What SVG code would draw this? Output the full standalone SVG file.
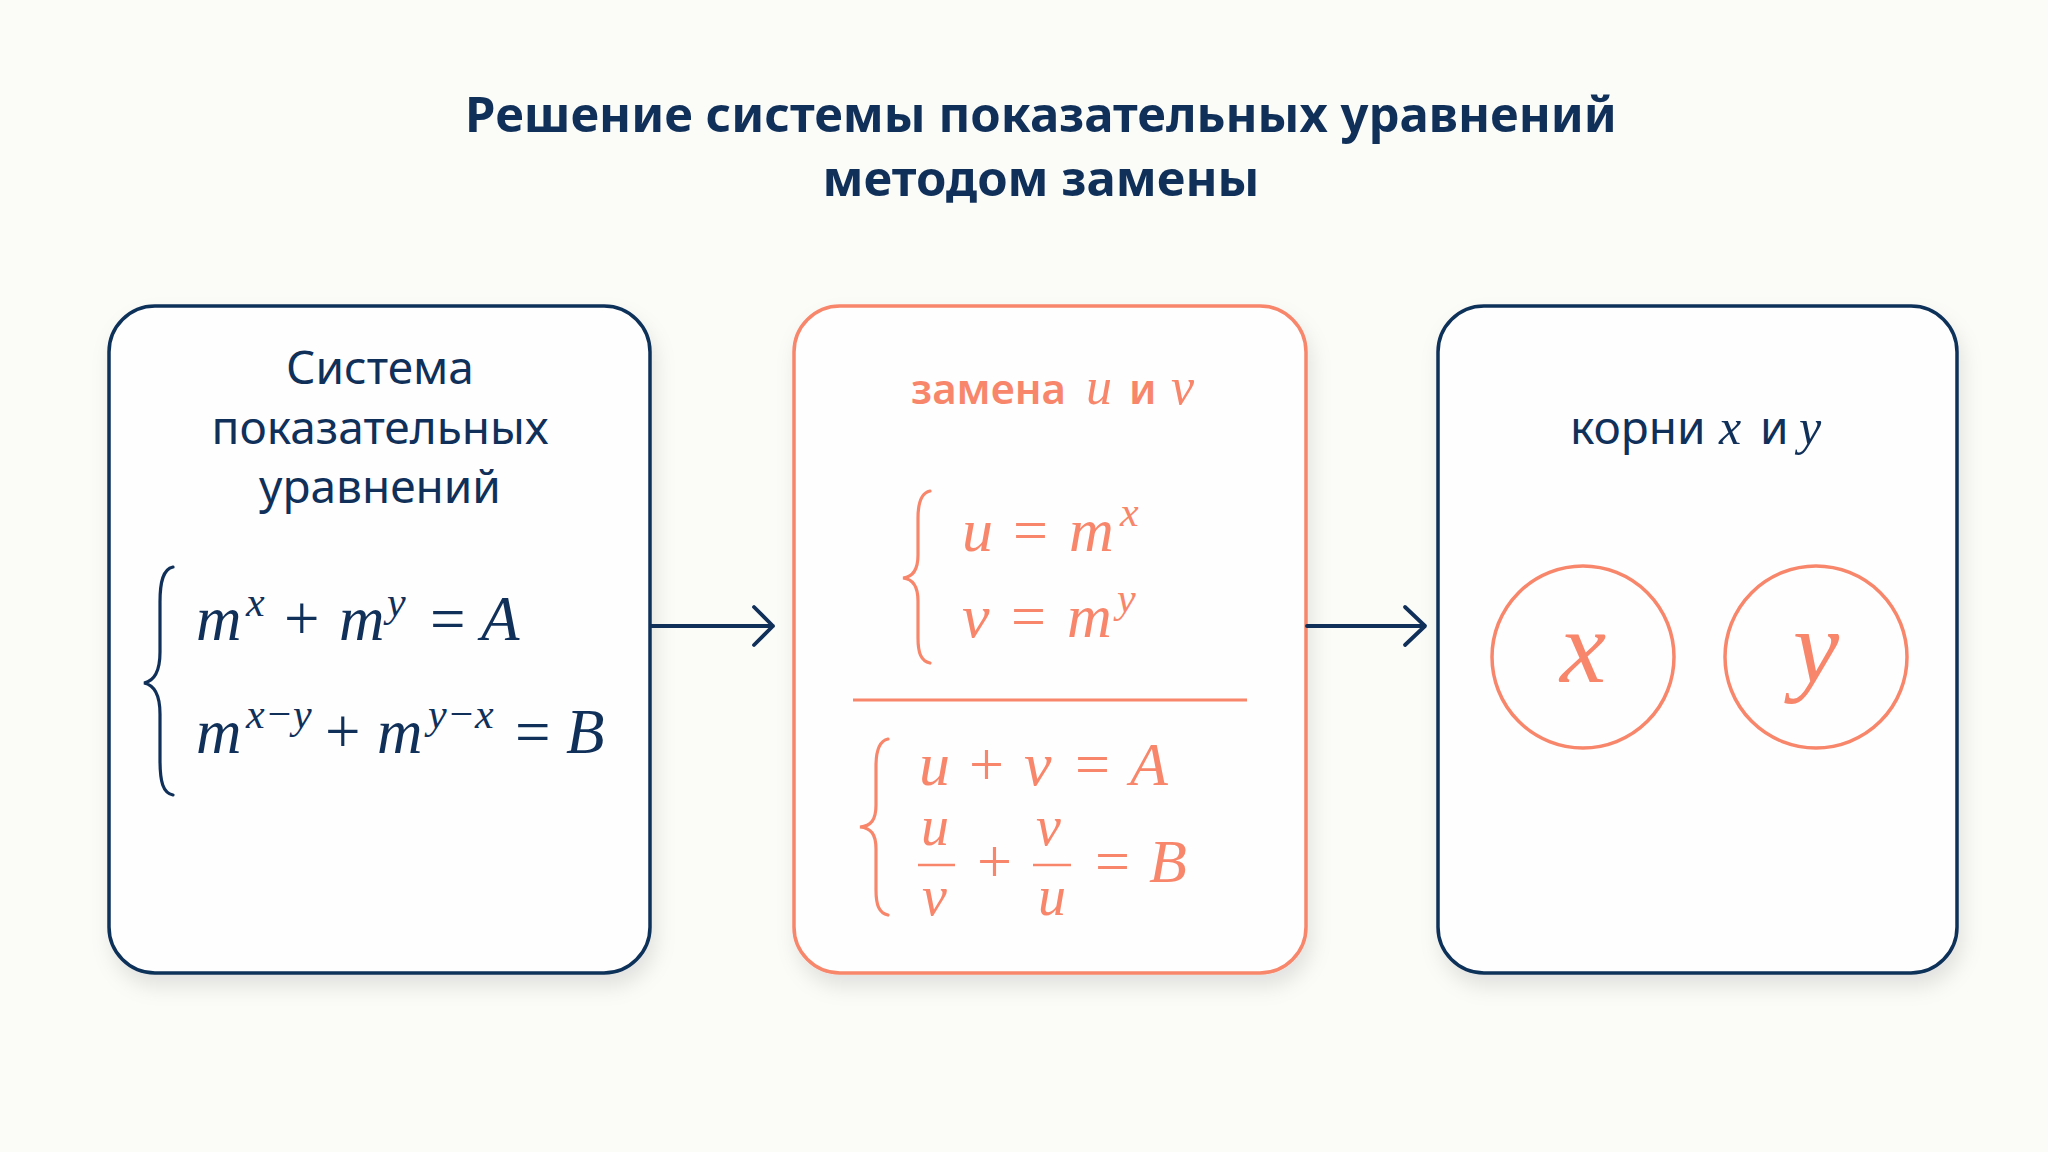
<svg xmlns="http://www.w3.org/2000/svg" width="2048" height="1152" viewBox="0 0 2048 1152">
<defs>
<filter id="sh" x="-10%" y="-10%" width="125%" height="125%">
<feDropShadow dx="4" dy="12" stdDeviation="10" flood-color="#000" flood-opacity="0.10"/>
</filter>
<style>
.bg{fill:#fbfbf8}
.box{fill:#fefefe;stroke-width:3.5}
.navy{stroke:#10305a}
.coral{stroke:#f7866b}
.sans{font-family:"Noto Sans","Open Sans","DejaVu Sans",sans-serif}
.title{font-size:49px;font-weight:700;fill:#10305a}
.lbl{font-size:46px;fill:#10305a}
.mi{font-family:"Liberation Serif","DejaVu Serif",serif;font-style:italic}
.mr{font-family:"Liberation Serif","DejaVu Serif",serif}
.nf{fill:#10305a}
.cf{fill:#f7866b}
.br{fill:none;stroke-width:3.2;stroke-linecap:round}
.conn{fill:none;stroke:#10305a;stroke-width:3.8;stroke-linecap:round;stroke-linejoin:round}
</style>
</defs>
<rect class="bg" x="0" y="0" width="2048" height="1152"/>

<g id="title">
<text class="sans title" x="1041" y="132" text-anchor="middle">Решение системы показательных уравнений</text>
<text class="sans title" x="1041" y="196" text-anchor="middle">методом замены</text>
</g>

<g id="node-system">
<rect class="box navy" x="109" y="306" width="541" height="667" rx="46" filter="url(#sh)"/>
<text class="sans lbl" x="380" y="384" text-anchor="middle">Система</text>
<text class="sans lbl" x="380" y="444" text-anchor="middle">показательных</text>
<text class="sans lbl" x="380" y="503" text-anchor="middle">уравнений</text>
<path class="br navy" d="M173,567 C163,569 160,582 160,602 L160,652 C160,672 154,681 144,683 C154,685 160,694 160,714 L160,760 C160,782 163,793 173,795"/>
<g font-size="63">
<text class="mi nf" x="196" y="640">m</text>
<text class="mi nf" x="246" y="616" font-size="42">x</text>
<text class="mr nf" x="284" y="640">+</text>
<text class="mi nf" x="339" y="640">m</text>
<text class="mi nf" x="387" y="616" font-size="42">y</text>
<text class="mr nf" x="430" y="640">=</text>
<text class="mi nf" x="481" y="640">A</text>
<text class="mi nf" x="196" y="753">m</text>
<text class="mi nf" x="246" y="728" font-size="42">x−y</text>
<text class="mr nf" x="325" y="753">+</text>
<text class="mi nf" x="377" y="753">m</text>
<text class="mi nf" x="428" y="728" font-size="42">y−x</text>
<text class="mr nf" x="515" y="753">=</text>
<text class="mi nf" x="566" y="753">B</text>
</g>
</g>

<g id="node-substitution">
<rect class="box coral" x="794" y="306" width="512" height="667" rx="46" filter="url(#sh)"/>
<text class="sans cf" x="911" y="404" font-size="42" font-weight="600">замена</text>
<text class="mi cf" x="1086" y="404" font-size="52">u</text>
<text class="sans cf" x="1129" y="404" font-size="42" font-weight="600">и</text>
<text class="mi cf" x="1171" y="404" font-size="52">v</text>
<path class="br coral" d="M930,491 C921,493 918,503 918,518 L918,555 C918,570 913,577 903,578 C913,579 918,586 918,601 L918,638 C918,653 921,661 930,663"/>
<g font-size="62">
<text class="mi cf" x="962" y="551">u</text>
<text class="mr cf" x="1013" y="551">=</text>
<text class="mi cf" x="1069" y="551">m</text>
<text class="mi cf" x="1120" y="526" font-size="42">x</text>
<text class="mi cf" x="962" y="637">v</text>
<text class="mr cf" x="1011" y="637">=</text>
<text class="mi cf" x="1067" y="637">m</text>
<text class="mi cf" x="1117" y="612" font-size="42">y</text>
</g>
<line x1="853" y1="700" x2="1247" y2="700" stroke="#f7866b" stroke-width="3"/>
<path class="br coral" d="M888,739 C879,741 876,751 876,766 L876,805 C876,820 871,826 860,827 C871,828 876,834 876,849 L876,890 C876,905 879,913 888,915"/>
<g font-size="62">
<text class="mi cf" x="919" y="785">u</text>
<text class="mr cf" x="969" y="785">+</text>
<text class="mi cf" x="1024" y="785">v</text>
<text class="mr cf" x="1075" y="785">=</text>
<text class="mi cf" x="1130" y="785">A</text>
<text class="mi cf" x="921" y="845" font-size="56">u</text>
<line x1="918" y1="865" x2="955" y2="865" stroke="#f7866b" stroke-width="2.6"/>
<text class="mi cf" x="922" y="915" font-size="56">v</text>
<text class="mr cf" x="977" y="882">+</text>
<text class="mi cf" x="1036" y="845" font-size="56">v</text>
<line x1="1033" y1="865" x2="1071" y2="865" stroke="#f7866b" stroke-width="2.6"/>
<text class="mi cf" x="1038" y="915" font-size="56">u</text>
<text class="mr cf" x="1095" y="882">=</text>
<text class="mi cf" x="1149" y="882">B</text>
</g>
</g>

<g id="node-roots">
<rect class="box navy" x="1438" y="306" width="519" height="667" rx="46" filter="url(#sh)"/>
<text class="sans lbl" x="1570" y="444" font-size="44">корни</text>
<text class="mi nf" x="1719" y="444" font-size="50">x</text>
<text class="sans lbl" x="1760" y="444" font-size="44">и</text>
<text class="mi nf" x="1799" y="444" font-size="50">y</text>
<g id="root-x">
<circle cx="1583" cy="657" r="91" fill="none" stroke="#f7866b" stroke-width="3.5"/>
<text class="mi cf" x="1583" y="682" font-size="104" text-anchor="middle">x</text>
</g>
<g id="root-y">
<circle cx="1816" cy="657" r="91" fill="none" stroke="#f7866b" stroke-width="3.5"/>
<text class="mi cf" x="1816" y="682" font-size="104" text-anchor="middle">y</text>
</g>
</g>

<g id="connectors">
<path class="conn" d="M651,626 L773,626 M754,607 L773,626 L754,645"/>
<path class="conn" d="M1307,626 L1425,626 M1405,607 L1425,626 L1405,645"/>
</g>
</svg>
